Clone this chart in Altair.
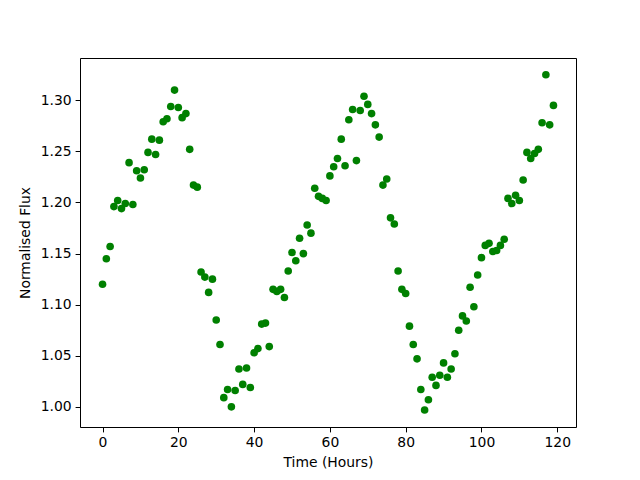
import altair as alt
import pandas as pd

hours = list(range(120))
flux = [
    1.120, 1.145, 1.157, 1.196, 1.202, 1.194, 1.199, 1.239, 1.198, 1.231,
    1.224, 1.232, 1.249, 1.262, 1.247, 1.261, 1.279, 1.282, 1.294, 1.310,
    1.293, 1.283, 1.287, 1.252, 1.217, 1.215, 1.132, 1.127, 1.112, 1.125,
    1.085, 1.061, 1.009, 1.017, 1.000, 1.016, 1.037, 1.022, 1.038, 1.019,
    1.053, 1.057, 1.081, 1.082, 1.059, 1.115, 1.113, 1.115, 1.107, 1.133,
    1.151, 1.143, 1.165, 1.150, 1.178, 1.170, 1.214, 1.206, 1.204, 1.202,
    1.226, 1.235, 1.243, 1.262, 1.236, 1.281, 1.291, 1.241, 1.290, 1.304,
    1.296, 1.287, 1.276, 1.264, 1.217, 1.223, 1.185, 1.179, 1.133, 1.115,
    1.111, 1.079, 1.061, 1.047, 1.017, 0.997, 1.007, 1.029, 1.021, 1.031,
    1.043, 1.029, 1.037, 1.052, 1.075, 1.089, 1.084, 1.117, 1.098, 1.129,
    1.146, 1.158, 1.160, 1.152, 1.153, 1.158, 1.164, 1.204, 1.199, 1.207,
    1.202, 1.222, 1.249, 1.243, 1.248, 1.252, 1.278, 1.325, 1.276, 1.295,
]
x_ticks = [0, 20, 40, 60, 80, 100, 120]
y_ticks = [1.00, 1.05, 1.10, 1.15, 1.20, 1.25, 1.30]

df = pd.DataFrame({"t": hours, "f": flux})

font = "DejaVu Sans"
axis_common = dict(
    domainColor="black", domainWidth=1,
    tickColor="black", tickSize=4.9, tickWidth=1,
    labelFont=font, labelFontSize=13.9, labelColor="black",
    titleFont=font, titleFontSize=13.9, titleColor="black",
    titleFontWeight="normal", grid=False, labelPadding=4,
)
frame_axis = dict(domainColor="black", domainWidth=1, ticks=False,
                  labels=False, grid=False, title=None)

xscale = alt.Scale(domain=[-5.95, 124.95], nice=False, zero=False)
yscale = alt.Scale(domain=[0.9803, 1.3414], nice=False, zero=False)

points = alt.Chart(df).mark_circle(size=58, color="#008000", opacity=1).encode(
    x=alt.X("t:Q", title="Time (Hours)", scale=xscale,
            axis=alt.Axis(values=x_ticks, format="d", titlePadding=6, **axis_common)),
    y=alt.Y("f:Q", title="Normalised Flux", scale=yscale,
            axis=alt.Axis(values=y_ticks, format=".2f", titlePadding=8, **axis_common)),
)

frame = alt.Chart(df).mark_circle(size=1, opacity=0).encode(
    x=alt.X("t:Q", scale=xscale, axis=alt.Axis(orient="top", **frame_axis)),
    y=alt.Y("f:Q", scale=yscale, axis=alt.Axis(orient="right", **frame_axis)),
)

chart = alt.layer(points, frame).resolve_axis(
    x="independent", y="independent"
).properties(
    width=496, height=369,
    autosize=alt.AutoSizeParams(type="none"),
    padding={"left": 72, "top": 50, "right": 56, "bottom": 45},
).configure_view(
    stroke=None,
).configure(background="white")

chart.save("out.html", embed_options={"renderer": "svg", "actions": False})
